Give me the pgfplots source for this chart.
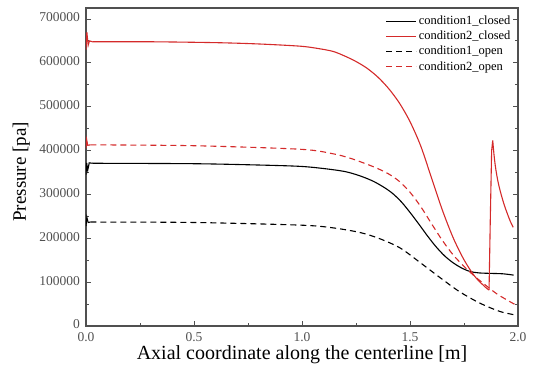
\documentclass[border=0pt]{standalone}
\usepackage{pgfplots}
\pgfplotsset{compat=1.18}
\usepackage{fontspec}
\setmainfont{Liberation Serif}
\definecolor{redc}{HTML}{D42A2A}
\definecolor{axc}{HTML}{505050}
\begin{document}
\begin{tikzpicture}
\useasboundingbox (0,0) rectangle (536pt,372pt);
\begin{axis}[
  at={(86pt,46pt)}, anchor=south west,
  scale only axis, width=432pt, height=318pt,
  xmin=0, xmax=2.0, ymin=0, ymax=725000,
  xtick={0,0.5,1.0,1.5,2.0},
  minor xtick={0.25,0.75,1.25,1.75},
  ytick={0,100000,200000,300000,400000,500000,600000,700000},
  minor ytick={50000,150000,250000,350000,450000,550000,650000},
  xtick pos=bottom, ytick pos=both, yticklabel pos=left,
  tick align=inside,
  major tick length=5pt, minor tick length=3pt,
  every tick/.style={axc, line width=0.9pt},
  axis line style={axc, line width=1.3pt},
  scaled y ticks=false,
  yticklabel style={/pgf/number format/fixed, /pgf/number format/1000 sep={}, font=\fontsize{13.5}{15}\selectfont, text=axc, xshift=-2.5pt, yshift=1.5pt, text depth=0pt, inner ysep=1pt},
  xticklabel style={/pgf/number format/fixed, /pgf/number format/fixed zerofill, /pgf/number format/precision=1, font=\fontsize{13.5}{15}\selectfont, text=axc, yshift=-3pt},
  /pgf/number format/assume math mode=true,
  xlabel={Axial coordinate along the centerline [m]},
  ylabel={Pressure [pa]},
  every axis x label/.style={at={(axis description cs:0.5,-0.09)}, anchor=center, font=\fontsize{20}{22}\selectfont},
  every axis y label/.style={at={(axis description cs:-0.15,0.485)}, rotate=90, anchor=center, font=\fontsize{19}{21}\selectfont},
  legend style={at={(axis description cs:0.99,0.985)}, anchor=north east, draw=none, fill=none, font=\fontsize{12.5}{14}\selectfont, row sep=1pt, inner sep=1pt},
  legend cell align=left,
  legend image code/.code={\draw[#1] (0pt,0pt) -- (30pt,0pt);},
]
% condition1_closed
\addplot[black, line width=1.1pt, smooth] coordinates {
(0.03,371000)(0.5,370000)(0.8,367000)(0.99,364000)(1.1,359000)(1.2,352000)(1.27,342000)(1.33,330000)(1.38,316000)(1.42,302000)(1.46,283000)(1.50,259000)(1.54,233000)(1.58,206000)(1.62,181000)(1.66,160000)(1.70,144000)(1.74,132000)(1.78,124000)(1.82,121000)(1.87,120000)(1.93,119000)(1.98,116000)};
\addlegendentry{condition1\_closed}
% condition2_closed
\addplot[redc, line width=1.1pt, smooth] coordinates {
(0.03,648000)(0.3,648000)(0.6,646000)(0.8,643000)(0.99,638000)(1.07,633000)(1.144,626000)(1.2,615000)(1.25,603000)(1.30,588000)(1.35,568000)(1.40,542000)(1.45,509000)(1.50,466000)(1.55,410000)(1.60,337000)(1.65,264000)(1.70,201000)(1.75,151000)(1.80,113000)(1.85,88000)(1.866,82000)};
\addlegendentry{condition2\_closed}
% condition1_open
\addplot[black, line width=1.1pt, dash pattern=on 6pt off 4pt, smooth] coordinates {
(0.02,237000)(0.5,236000)(0.99,230000)(1.14,224000)(1.27,213000)(1.36,199000)(1.454,178000)(1.546,145000)(1.64,110000)(1.73,78000)(1.824,52000)(1.917,33000)(1.99,25000)};
\addlegendentry{condition1\_open}
% condition2_open
\addplot[redc, line width=1.1pt, dash pattern=on 6pt off 4pt, smooth] coordinates {
(0.02,413000)(0.5,411000)(0.99,403000)(1.14,393000)(1.22,383000)(1.30,369000)(1.35,359000)(1.40,347000)(1.45,330000)(1.50,305000)(1.55,272000)(1.60,233000)(1.65,195000)(1.70,162000)(1.75,136000)(1.80,113000)(1.85,93000)(1.90,74000)(1.95,59000)(1.99,48000)};
\addlegendentry{condition2\_open}
% start spikes and shock segments
\addplot[black, line width=1.1pt, forget plot] coordinates {(0,345000)(0.003,372000)(0.008,355000)(0.015,372000)(0.03,371000)};
\addplot[redc, line width=1.1pt, forget plot] coordinates {(0,630000)(0.004,670000)(0.01,640000)(0.016,650000)(0.03,648000)};
\addplot[black, line width=1.1pt, forget plot] coordinates {(0,228000)(0.004,248000)(0.01,236000)(0.02,237000)};
\addplot[redc, line width=1.1pt, forget plot] coordinates {(0,405000)(0.003,425000)(0.008,412000)(0.02,413000)};
\addplot[redc, line width=1.1pt, forget plot] coordinates {(1.866,82000)(1.872,250000)(1.878,400000)(1.883,423000)(1.888,395000)};
\addplot[redc, line width=1.1pt, smooth, forget plot] coordinates {(1.888,395000)(1.895,365000)(1.905,335000)(1.917,309000)(1.935,278000)(1.95,257000)(1.965,238000)(1.978,225000)};
\end{axis}
\end{tikzpicture}
\end{document}
